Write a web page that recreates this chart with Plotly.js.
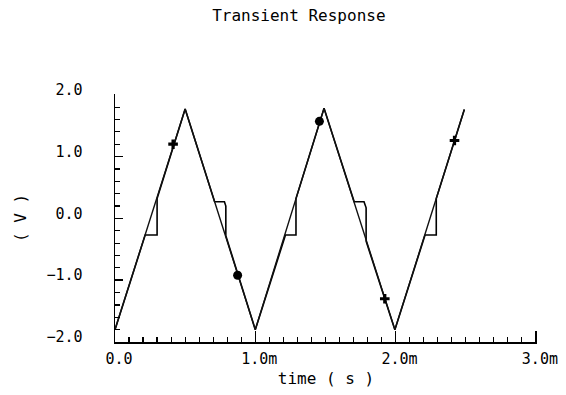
<!DOCTYPE html>
<html>
<head>
<meta charset="utf-8">
<script src="https://cdn.plot.ly/plotly-3.0.1.min.js"></script>
<style>html,body{margin:0;padding:0;background:#fff;}#chart{width:566px;height:395px;}</style>
</head>
<body>
<div id="chart"></div>
<script>
// Triangle wave (time in ms, volts)
var triTime = [0, 0.5, 1.0, 1.49, 1.995, 2.49];
var triVolt = [-1.8, 1.77, -1.8, 1.78, -1.8, 1.76];

// Sample-and-hold style trace
var holdTime = [0, 0.215, 0.30, 0.30, 0.5, 0.71, 0.78, 0.79, 0.79, 1.0, 1.215, 1.29, 1.29, 1.49, 1.705, 1.775, 1.79, 1.79, 1.995, 2.21, 2.29, 2.29, 2.49];
var holdVolt = [-1.8, -0.27, -0.27, 0.32, 1.77, 0.27, 0.27, 0.2, -0.28, -1.8, -0.27, -0.27, 0.32, 1.78, 0.27, 0.27, 0.17, -0.37, -1.8, -0.27, -0.27, 0.32, 1.76];

// Markers
var plusTime = [0.414, 1.923, 2.42];
var plusVolt = [1.2, -1.30, 1.26];
var dotTime = [0.874, 1.457];
var dotVolt = [-0.92, 1.57];

// Tick labels
var xTickVals = [0, 1, 2, 3];
var xTickText = ['0.0', '1.0m', '2.0m', '3.0m'];
var yTickVals = [-2, -1, 0, 1, 2];
var yTickText = ['\u22122.0', '\u22121.0', '0.0', '1.0', '2.0'];

var FONT = 'DejaVu Sans Mono, monospace';

var traces = [
  {x: holdTime, y: holdVolt, mode: 'lines', line: {color: '#000', width: 1.6}, hoverinfo: 'skip'},
  {x: triTime, y: triVolt, mode: 'lines', line: {color: '#111', width: 1.4}, hoverinfo: 'skip'},
  {x: plusTime, y: plusVolt, mode: 'markers', marker: {symbol: 'cross', size: 8, color: '#000'}},
  {x: dotTime, y: dotVolt, mode: 'markers', marker: {symbol: 'circle', size: 9, color: '#000'}}
];

var layout = {
  width: 566, height: 395,
  margin: {l: 115, r: 29, t: 94, b: 53},
  paper_bgcolor: '#fff', plot_bgcolor: '#fff',
  showlegend: false,
  font: {family: FONT, size: 15, color: '#000'},
  title: {text: 'Transient Response', x: 0.528, xanchor: 'center', y: 0.96, yanchor: 'middle',
          font: {family: FONT, size: 16, color: '#000'}},
  xaxis: {
    range: [0, 3.008], showgrid: false, zeroline: false,
    showline: true, linecolor: '#000', linewidth: 1.5,
    ticks: 'inside', ticklen: 11, tickwidth: 1.5, tickcolor: '#000',
    tickmode: 'array', tickvals: xTickVals, ticktext: xTickText,
    ticklabelshift: 4, ticklabelstandoff: 2,
    minor: {dtick: 0.1, ticks: 'inside', ticklen: 5, tickwidth: 1.2, tickcolor: '#000', showgrid: false},
    title: {text: 'time ( s )', standoff: 6, font: {family: FONT, size: 16, color: '#000'}}
  },
  yaxis: {
    range: [-2, 2.012], showgrid: false, zeroline: false,
    showline: true, linecolor: '#000', linewidth: 1.5,
    ticks: 'inside', ticklen: 8, tickwidth: 1.5, tickcolor: '#000',
    tickmode: 'array', tickvals: yTickVals, ticktext: yTickText,
    ticklabelshift: -5, ticklabelstandoff: 28,
    minor: {dtick: 0.2, ticks: 'inside', ticklen: 5, tickwidth: 1.2, tickcolor: '#000', showgrid: false},
    title: {text: '( V )', standoff: 16, font: {family: FONT, size: 16, color: '#000'}}
  }
};

Plotly.newPlot('chart', traces, layout, {displayModeBar: false, staticPlot: true});
</script>
</body>
</html>
